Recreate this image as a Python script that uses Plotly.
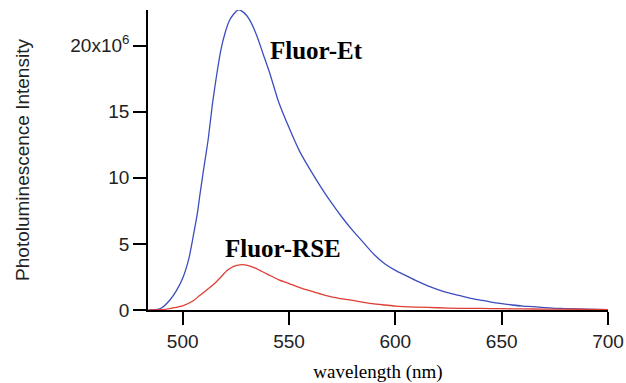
import plotly.graph_objects as go

# Fluor-Et (blue) spectrum: wavelength (nm), intensity (x1e6)
et_wl = [484, 488, 490, 494, 497, 500, 503, 505, 507, 508, 510, 512, 514, 516, 518,
         520, 522, 524, 526, 528, 530, 532, 535, 538, 541, 545, 550, 555, 560, 565,
         570, 575, 580, 585, 590, 595, 600, 605, 610, 615, 620, 625, 630, 635, 640,
         645, 650, 655, 660, 665, 670, 675, 680, 690, 700]
et_int = [0.0, 0.05, 0.15, 0.76, 1.45, 2.4, 3.95, 5.6, 7.4, 8.6, 10.8, 12.9, 15.6, 17.8, 19.7,
          21.0, 21.9, 22.4, 22.7, 22.6, 22.3, 21.8, 20.7, 19.3, 17.9, 15.8, 13.8, 12.0, 10.6, 9.3,
          8.1, 7.0, 6.0, 5.1, 4.2, 3.5, 3.0, 2.6, 2.2, 1.85, 1.55, 1.3, 1.1, 0.9, 0.75,
          0.6, 0.48, 0.38, 0.3, 0.25, 0.18, 0.13, 0.1, 0.07, 0.02]

# Fluor-RSE (red) spectrum
rse_wl = [484, 490, 495, 500, 505, 508, 512, 515, 518, 521, 524, 527, 530, 533, 536,
          540, 545, 550, 555, 560, 565, 570, 575, 580, 585, 590, 595, 600, 610, 620,
          630, 640, 650, 660, 670, 680, 690, 700]
rse_int = [0.0, 0.02, 0.15, 0.32, 0.7, 1.1, 1.6, 2.0, 2.5, 3.0, 3.3, 3.42, 3.4, 3.25, 3.02,
           2.7, 2.3, 2.0, 1.7, 1.45, 1.2, 1.0, 0.85, 0.72, 0.58, 0.46, 0.38, 0.3, 0.22, 0.17,
           0.13, 0.12, 0.1, 0.08, 0.07, 0.06, 0.05, 0.03]

x_ticks = [500, 550, 600, 650, 700]
y_ticks = [0, 5, 10, 15, 20]
y_ticktext = ["0", "5", "10", "15", "20x10<sup>6</sup>"]

fig = go.Figure()
fig.add_trace(go.Scatter(x=et_wl, y=[v * 1e6 for v in et_int], mode="lines",
                         line=dict(color="rgb(60,78,190)", width=1.3, shape="spline", smoothing=0.6),
                         name="Fluor-Et"))
fig.add_trace(go.Scatter(x=rse_wl, y=[v * 1e6 for v in rse_int], mode="lines",
                         line=dict(color="rgb(222,62,52)", width=1.3, shape="spline", smoothing=0.6),
                         name="Fluor-RSE"))

fig.add_annotation(x=562.7, y=19.6e6, text="<b>Fluor-Et</b>", showarrow=False,
                   font=dict(family="Liberation Serif", size=25, color="black"))
fig.add_annotation(x=547, y=4.64e6, text="<b>Fluor-RSE</b>", showarrow=False,
                   font=dict(family="Liberation Serif", size=25, color="black"))

fig.update_layout(
    width=626, height=383,
    margin=dict(l=148, r=18, t=10, b=73),
    paper_bgcolor="white", plot_bgcolor="white",
    showlegend=False,
    xaxis=dict(range=[483.7, 700], tickvals=x_ticks, ticks="outside", ticklen=13,
               tickwidth=1.5, tickcolor="black", showline=True, linecolor="black",
               linewidth=1.5, showgrid=False, zeroline=False, automargin=False,
               tickfont=dict(family="Liberation Sans", size=19, color="#222"),
               title=dict(text="wavelength (nm)", standoff=14,
                          font=dict(family="Liberation Serif", size=19, color="black"))),
    yaxis=dict(range=[0, 22.7e6], tickvals=[v * 1e6 for v in y_ticks], ticktext=y_ticktext,
               ticks="outside", ticklen=13, tickwidth=1.5, tickcolor="black",
               showline=True, linecolor="black", linewidth=1.5, showgrid=False, zeroline=False,
               automargin=False,
               tickfont=dict(family="Liberation Sans", size=19, color="#222"),
               title=dict(text="Photoluminescence Intensity", standoff=36,
                          font=dict(family="Liberation Sans", size=19, color="#222"))),
)

fig.write_html("out.html")
